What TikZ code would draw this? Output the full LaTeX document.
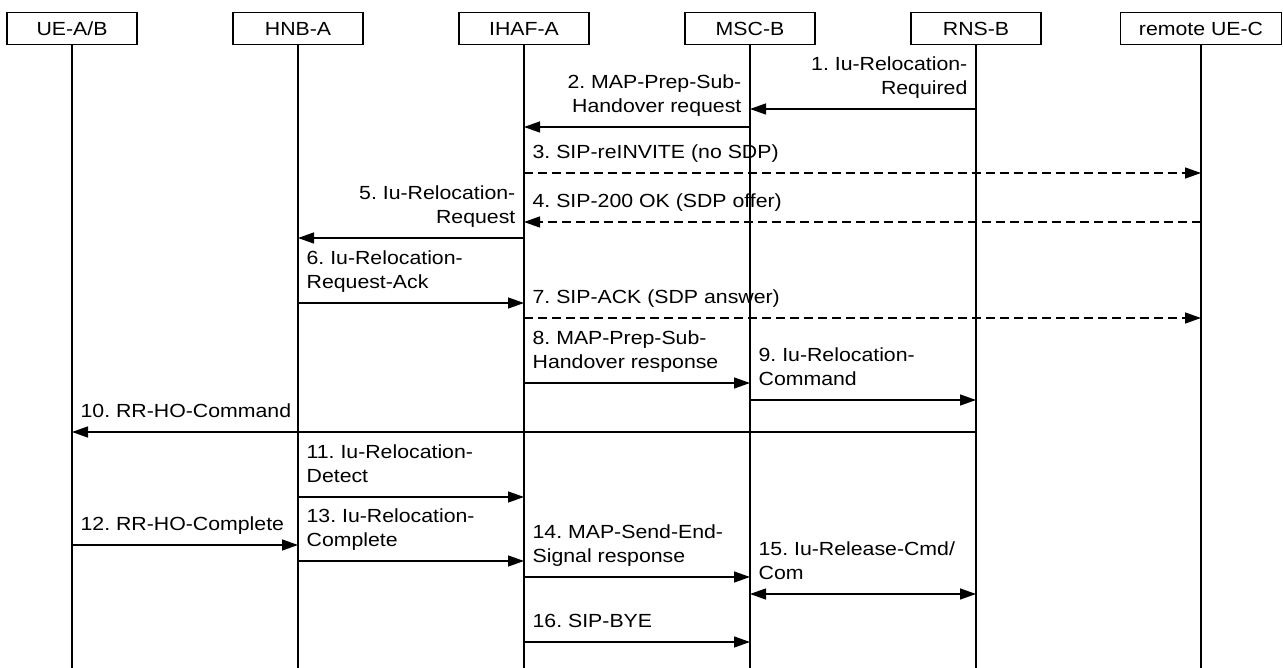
\documentclass[tikz,border=0pt]{standalone}
\usepackage{fontspec}
\setmainfont{Liberation Sans}[FakeStretch=1.12]
\usepackage{tikz}
\usetikzlibrary{arrows.meta}

\tikzset{
	every node/.style={font=\fontsize{19}{24.3}\selectfont\frenchspacing},
	entity/.style={draw, line width=1.3pt, minimum width=130pt, minimum height=32pt, inner sep=0pt, anchor=north},
	lifeline/.style={line width=1.3pt},
	msg/.style={-{Triangle[length=16pt, width=11pt]}, line width=1.3pt},
	bothmsg/.style={{Triangle[length=16pt, width=11pt]}-{Triangle[length=16pt, width=11pt]}, line width=1.3pt},
	sipmsg/.style={msg, dash pattern=on 9pt off 5pt},
	leftlbl/.style={anchor=south east, inner sep=0pt, align=right, xshift=-8pt, yshift=6.7pt},
	rightlbl/.style={anchor=south west, inner sep=0pt, align=left, xshift=8pt, yshift=6.7pt},
}

\begin{document}
\begin{tikzpicture}[x=1pt, y=-1pt]
			\useasboundingbox (0, 0) rectangle (1283, 668);
			
			% Entities
			\node[entity] (ue) at (72, 12) {UE-A/B};
			\node[entity] (hnb) at (298, 12) {HNB-A};
			\node[entity] (ihaf) at (524, 12) {IHAF-A};
			\node[entity] (msc) at (750, 12) {MSC-B};
			\node[entity] (rns) at (976, 12) {RNS-B};
			\node[entity, minimum width=161pt] (uec) at (1201, 12) {remote UE-C};
			
			% Lifelines
			\draw[lifeline] (ue.south) -- (ue.south |- 0, 668);
			\draw[lifeline] (hnb.south) -- (hnb.south |- 0, 668);
			\draw[lifeline] (ihaf.south) -- (ihaf.south |- 0, 668);
			\draw[lifeline] (msc.south) -- (msc.south |- 0, 668);
			\draw[lifeline] (rns.south) -- (rns.south |- 0, 668);
			\draw[lifeline] (uec.south) -- (uec.south |- 0, 668);
			
			% 1-2
			\draw[msg] (rns.south |- 0, 109) -- (msc.south |- 0, 109) node[at start, leftlbl] {1. Iu-Relocation-\\Required\strut};
			\draw[msg] (msc.south |- 0, 127) -- (ihaf.south |- 0, 127) node[at start, leftlbl] {2. MAP-Prep-Sub-\\Handover request\strut};
			
			% 3-4 (SIP, dashed)
			\draw[sipmsg] (ihaf.south |- 0, 173) -- (uec.south |- 0, 173) node[at start, rightlbl] {3. SIP-reINVITE (no SDP)\strut};
			\draw[sipmsg] (uec.south |- 0, 222) -- (ihaf.south |- 0, 222) node[at end, rightlbl] {4. SIP-200 OK (SDP offer)\strut};
			
			% 5-6
			\draw[msg] (ihaf.south |- 0, 238) -- (hnb.south |- 0, 238) node[at start, leftlbl] {5. Iu-Relocation-\\Request\strut};
			\draw[msg] (hnb.south |- 0, 303) -- (ihaf.south |- 0, 303) node[at start, rightlbl] {6. Iu-Relocation-\\Request-Ack\strut};
			
			% 7 (SIP, dashed)
			\draw[sipmsg] (ihaf.south |- 0, 318) -- (uec.south |- 0, 318) node[at start, rightlbl] {7. SIP-ACK (SDP answer)\strut};
			
			% 8-10
			\draw[msg] (ihaf.south |- 0, 383) -- (msc.south |- 0, 383) node[at start, rightlbl] {8. MAP-Prep-Sub-\\Handover response\strut};
			\draw[msg] (msc.south |- 0, 400) -- (rns.south |- 0, 400) node[at start, rightlbl] {9. Iu-Relocation-\\Command\strut};
			\draw[msg] (rns.south |- 0, 432) -- (ue.south |- 0, 432) node[at end, rightlbl] {10. RR-HO-Command\strut};
			
			% 11-13
			\draw[msg] (hnb.south |- 0, 497) -- (ihaf.south |- 0, 497) node[at start, rightlbl] {11. Iu-Relocation-\\Detect\strut};
			\draw[msg] (ue.south |- 0, 545) -- (hnb.south |- 0, 545) node[at start, rightlbl] {12. RR-HO-Complete\strut};
			\draw[msg] (hnb.south |- 0, 561) -- (ihaf.south |- 0, 561) node[at start, rightlbl] {13. Iu-Relocation-\\Complete\strut};
			
			% 14-16
			\draw[msg] (ihaf.south |- 0, 577) -- (msc.south |- 0, 577) node[at start, rightlbl] {14. MAP-Send-End-\\Signal response\strut};
			\draw[bothmsg] (msc.south |- 0, 594) -- (rns.south |- 0, 594) node[at start, rightlbl] {15. Iu-Release-Cmd/\\Com\strut};
			\draw[msg] (ihaf.south |- 0, 642) -- (msc.south |- 0, 642) node[at start, rightlbl] {16. SIP-BYE\strut};
			
		\end{tikzpicture}
\end{document}
